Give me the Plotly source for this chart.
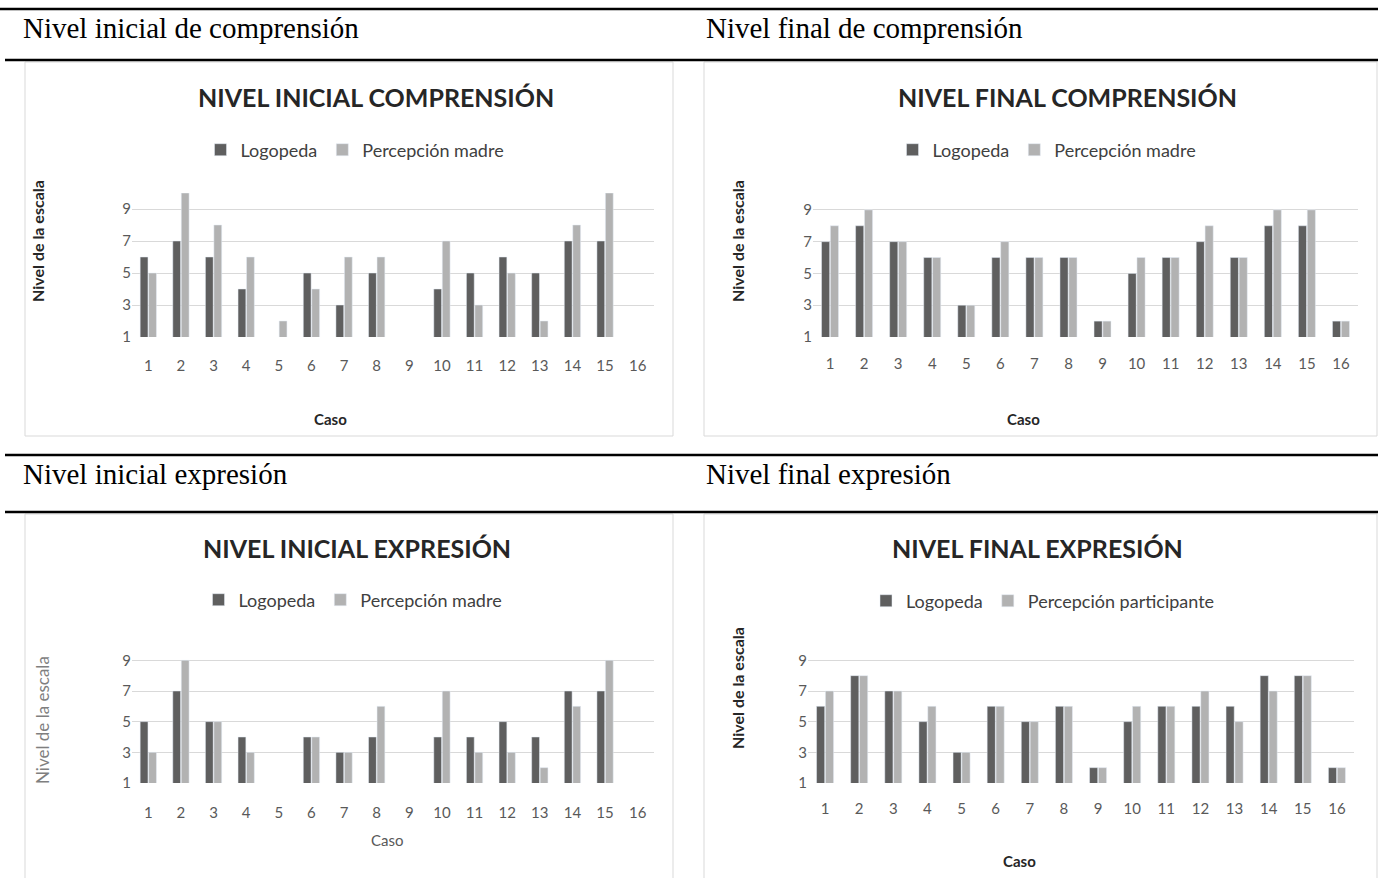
import plotly.graph_objects as go

W, H = 1378, 878
FIG_H = 886  # rendered page height (capture is scaled to 878)

casos = [str(i) for i in range(1, 17)]
y_ticks = [1, 3, 5, 7, 9]

# Nivel inicial comprensión
ini_comp_logopeda = [6, 7, 6, 4, None, 5, 3, 5, None, 4, 5, 6, 5, 7, 7, None]
ini_comp_madre = [5, 10, 8, 6, 2, 4, 6, 6, None, 7, 3, 5, 2, 8, 10, None]
# Nivel final comprensión
fin_comp_logopeda = [7, 8, 7, 6, 3, 6, 6, 6, 2, 5, 6, 7, 6, 8, 8, 2]
fin_comp_madre = [8, 9, 7, 6, 3, 7, 6, 6, 2, 6, 6, 8, 6, 9, 9, 2]
# Nivel inicial expresión
ini_exp_logopeda = [5, 7, 5, 4, None, 4, 3, 4, None, 4, 4, 5, 4, 7, 7, None]
ini_exp_madre = [3, 9, 5, 3, None, 4, 3, 6, None, 7, 3, 3, 2, 6, 9, None]
# Nivel final expresión
fin_exp_logopeda = [6, 8, 7, 5, 3, 6, 5, 6, 2, 5, 6, 6, 6, 8, 8, 2]
fin_exp_participante = [7, 8, 7, 6, 3, 6, 5, 6, 2, 6, 6, 7, 5, 7, 8, 2]

DARK = "#5f5f5f"
LIGHT = "#b2b2b2"
SANS = "Lato, 'Open Sans', sans-serif"
SERIF = "'Liberation Serif', 'Times New Roman', serif"


def px_x(x):
    return x / W


def px_y(y):
    return 1 - y / H


panels = [
    dict(ax="", title="NIVEL INICIAL COMPRENSIÓN", tx=376, ty=97,
         s1=ini_comp_logopeda, s2=ini_comp_madre, n2="Percepción madre",
         xd=(132, 654), yd=(193, 337), leg=(355, 150), tl=15,
         ylab=(37, 241, True, 16), caso=(330, 419, True)),
    dict(ax="2", title="NIVEL FINAL COMPRENSIÓN", tx=1067, ty=97,
         s1=fin_comp_logopeda, s2=fin_comp_madre, n2="Percepción madre",
         xd=(813, 1358), yd=(194, 337), leg=(1047, 150), tl=13,
         ylab=(737, 241, True, 16), caso=(1023, 419, True)),
    dict(ax="3", title="NIVEL INICIAL EXPRESIÓN", tx=357, ty=548,
         s1=ini_exp_logopeda, s2=ini_exp_madre, n2="Percepción madre",
         xd=(132, 654), yd=(645, 783), leg=(353, 600), tl=16,
         ylab=(42, 720, False, 17), caso=(387, 840, False)),
    dict(ax="4", title="NIVEL FINAL EXPRESIÓN", tx=1037, ty=548,
         s1=fin_exp_logopeda, s2=fin_exp_participante, n2="Percepción participante",
         xd=(808, 1354), yd=(645, 783), leg=(1043, 601), tl=12,
         ylab=(737, 688, True, 16), caso=(1020, 861, True)),
]

fig = go.Figure()
annotations = []
shapes = []
layout = {}

for i, p in enumerate(panels):
    sfx = p["ax"]
    legname = "legend" + sfx
    xa, ya = "x" + sfx, "y" + sfx
    fig.add_trace(go.Bar(x=casos, y=p["s1"], name="Logopeda", marker_color=DARK,
                         xaxis=xa, yaxis=ya, legend=legname))
    fig.add_trace(go.Bar(x=casos, y=p["s2"], name=p["n2"], marker_color=LIGHT,
                         xaxis=xa, yaxis=ya, legend=legname))
    layout["xaxis" + sfx] = dict(
        domain=[px_x(p["xd"][0]), px_x(p["xd"][1])], anchor=ya, type="category",
        showgrid=False, showline=False, zeroline=False,
        ticks="outside", ticklen=p["tl"], tickcolor="rgba(0,0,0,0)",
        tickfont=dict(family=SANS, size=15, color="#595959"), fixedrange=True)
    layout["yaxis" + sfx] = dict(
        domain=[px_y(p["yd"][1]), px_y(p["yd"][0])], anchor=xa, range=[1, 10],
        tickvals=y_ticks, showgrid=True, gridcolor="#d9d9d9", gridwidth=1,
        showline=False, zeroline=False, ticks="",
        tickfont=dict(family=SANS, size=15, color="#595959"), fixedrange=True)
    layout[legname] = dict(
        orientation="h", x=px_x(p["leg"][0]), y=px_y(p["leg"][1]),
        xanchor="center", yanchor="middle", bgcolor="rgba(0,0,0,0)",
        font=dict(family=SANS, size=18, color="#404040"), itemwidth=30,
        traceorder="normal")
    annotations.append(dict(
        text="<b>" + p["title"] + "</b>", x=px_x(p["tx"]), y=px_y(p["ty"]),
        xref="paper", yref="paper", showarrow=False, xanchor="center",
        yanchor="middle", font=dict(family=SANS, size=25, color="#262626")))
    lx, ly, bold, lsz = p["ylab"]
    annotations.append(dict(
        text=("<b>Nivel de la escala</b>" if bold else "Nivel de la escala"),
        x=px_x(lx), y=px_y(ly), xref="paper", yref="paper", showarrow=False,
        textangle=-90, xanchor="center", yanchor="middle",
        font=dict(family=SANS, size=lsz, color="#262626" if bold else "#7f7f7f")))
    cx, cy, cbold = p["caso"]
    annotations.append(dict(
        text=("<b>Caso</b>" if cbold else "Caso"), x=px_x(cx), y=px_y(cy),
        xref="paper", yref="paper", showarrow=False, xanchor="center",
        yanchor="middle",
        font=dict(family=SANS, size=15, color="#262626" if cbold else "#595959")))

# Captions
captions = [("Nivel inicial de comprensión", 21, 28),
            ("Nivel final de comprensión", 704, 28),
            ("Nivel inicial expresión", 21, 474),
            ("Nivel final expresión", 704, 474)]
for txt, cx, cy in captions:
    annotations.append(dict(
        text=txt, x=px_x(cx), y=px_y(cy), xref="paper", yref="paper",
        showarrow=False, xanchor="left", yanchor="middle",
        font=dict(family=SERIF, size=29, color="#000000")))

# Table rules
for y0, xa0 in [(9, 0), (60, 5), (455, 5), (512, 5)]:
    shapes.append(dict(type="line", xref="paper", yref="paper",
                       x0=px_x(xa0), x1=1, y0=px_y(y0), y1=px_y(y0),
                       line=dict(color="#000000", width=2.5)))

# Chart borders
for x0, x1, y0, y1 in [(25, 673, 62, 436), (704, 1377, 62, 436),
                       (25, 673, 514, 890), (704, 1377, 514, 890)]:
    shapes.append(dict(type="rect", xref="paper", yref="paper",
                       x0=px_x(x0), x1=px_x(x1), y0=px_y(y1), y1=px_y(y0),
                       line=dict(color="#d9d9d9", width=1), layer="below"))

fig.update_layout(
    width=W, height=FIG_H, margin=dict(l=0, r=0, t=0, b=0),
    paper_bgcolor="white", plot_bgcolor="white",
    barmode="group", bargap=0.48, bargroupgap=0.08,
    annotations=annotations, shapes=shapes, **layout)

css = "margin:0;padding:0;overflow:hidden;"
fig.write_html(
    "out.html",
    config={"displayModeBar": False},
    post_script=("document.documentElement.style.cssText='" + css + "';"
                 "document.body.style.cssText='" + css + "';"))
